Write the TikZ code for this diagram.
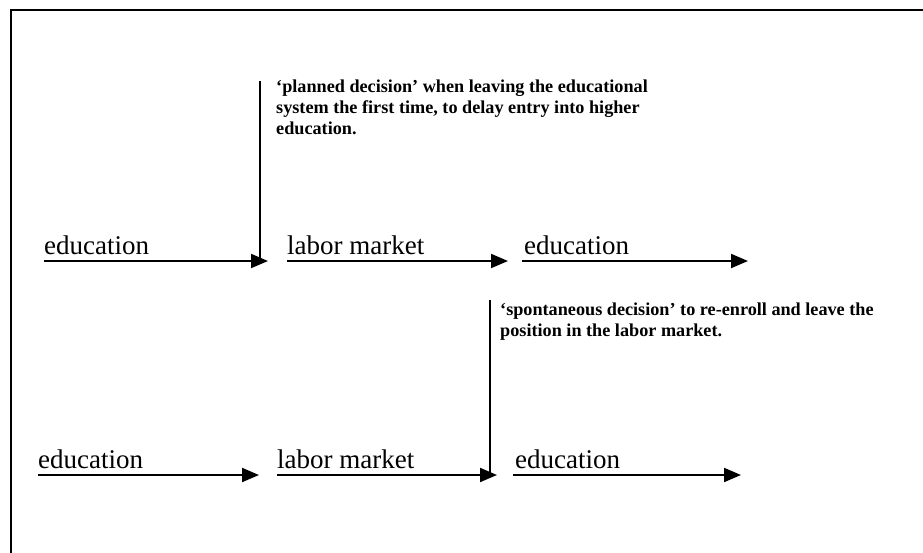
\documentclass[tikz,border=0pt]{standalone}
\usepackage{fontspec}
\setmainfont{Liberation Serif}
\usetikzlibrary{arrows.meta}
\tikzset{
  flow/.style={line width=2pt,-{Triangle[length=17pt,width=14pt]}},
  stage/.style={anchor=base west,inner sep=0pt,font=\fontsize{27}{30}\selectfont},
  note/.style={anchor=north west,inner sep=0pt,align=left,font=\fontsize{18.2}{21}\selectfont\bfseries},
  marker/.style={line width=1.6pt},
  frame/.style={line width=2pt}
}
\begin{document}
\begin{tikzpicture}[x=1pt,y=-1pt]
\useasboundingbox (0,0) rectangle (923,552);
\begin{scope}
\clip (0,0) rectangle (923,552);
\draw[frame] (11,10) rectangle (940,570);
\end{scope}
% row 1
\coordinate (a1s) at (44,261); \coordinate (a1e) at (268,261);
\coordinate (a2s) at (287,261); \coordinate (a2e) at (508,261);
\coordinate (a3s) at (522,261); \coordinate (a3e) at (748,261);
\node[stage] (t1) at (44,254) {education};
\node[stage] (t2) at (287,254) {labor market};
\node[stage] (t3) at (524,254) {education};
\draw[flow] (a1s) -- (a1e);
\draw[flow] (a2s) -- (a2e);
\draw[flow] (a3s) -- (a3e);
\coordinate (v1t) at (260,81); \coordinate (v1b) at (260,259);
\draw[marker] (v1t) -- (v1b);
\node[note] (n1) at (276,80) {‘planned decision’ when leaving the educational\\system the first time, to delay entry into higher\\education.};
% row 2
\coordinate (b1s) at (38,475); \coordinate (b1e) at (259,475);
\coordinate (b2s) at (277,475); \coordinate (b2e) at (497,475);
\coordinate (b3s) at (513,475); \coordinate (b3e) at (741,475);
\node[stage] (s1) at (38,468) {education};
\node[stage] (s2) at (277,468) {labor market};
\node[stage] (s3) at (515,468) {education};
\draw[flow] (b1s) -- (b1e);
\draw[flow] (b2s) -- (b2e);
\draw[flow] (b3s) -- (b3e);
\coordinate (v2t) at (490,300); \coordinate (v2b) at (490,473);
\draw[marker] (v2t) -- (v2b);
\node[note] (n2) at (500,303) {‘spontaneous decision’ to re-enroll and leave the\\position in the labor market.};
\end{tikzpicture}
\end{document}
